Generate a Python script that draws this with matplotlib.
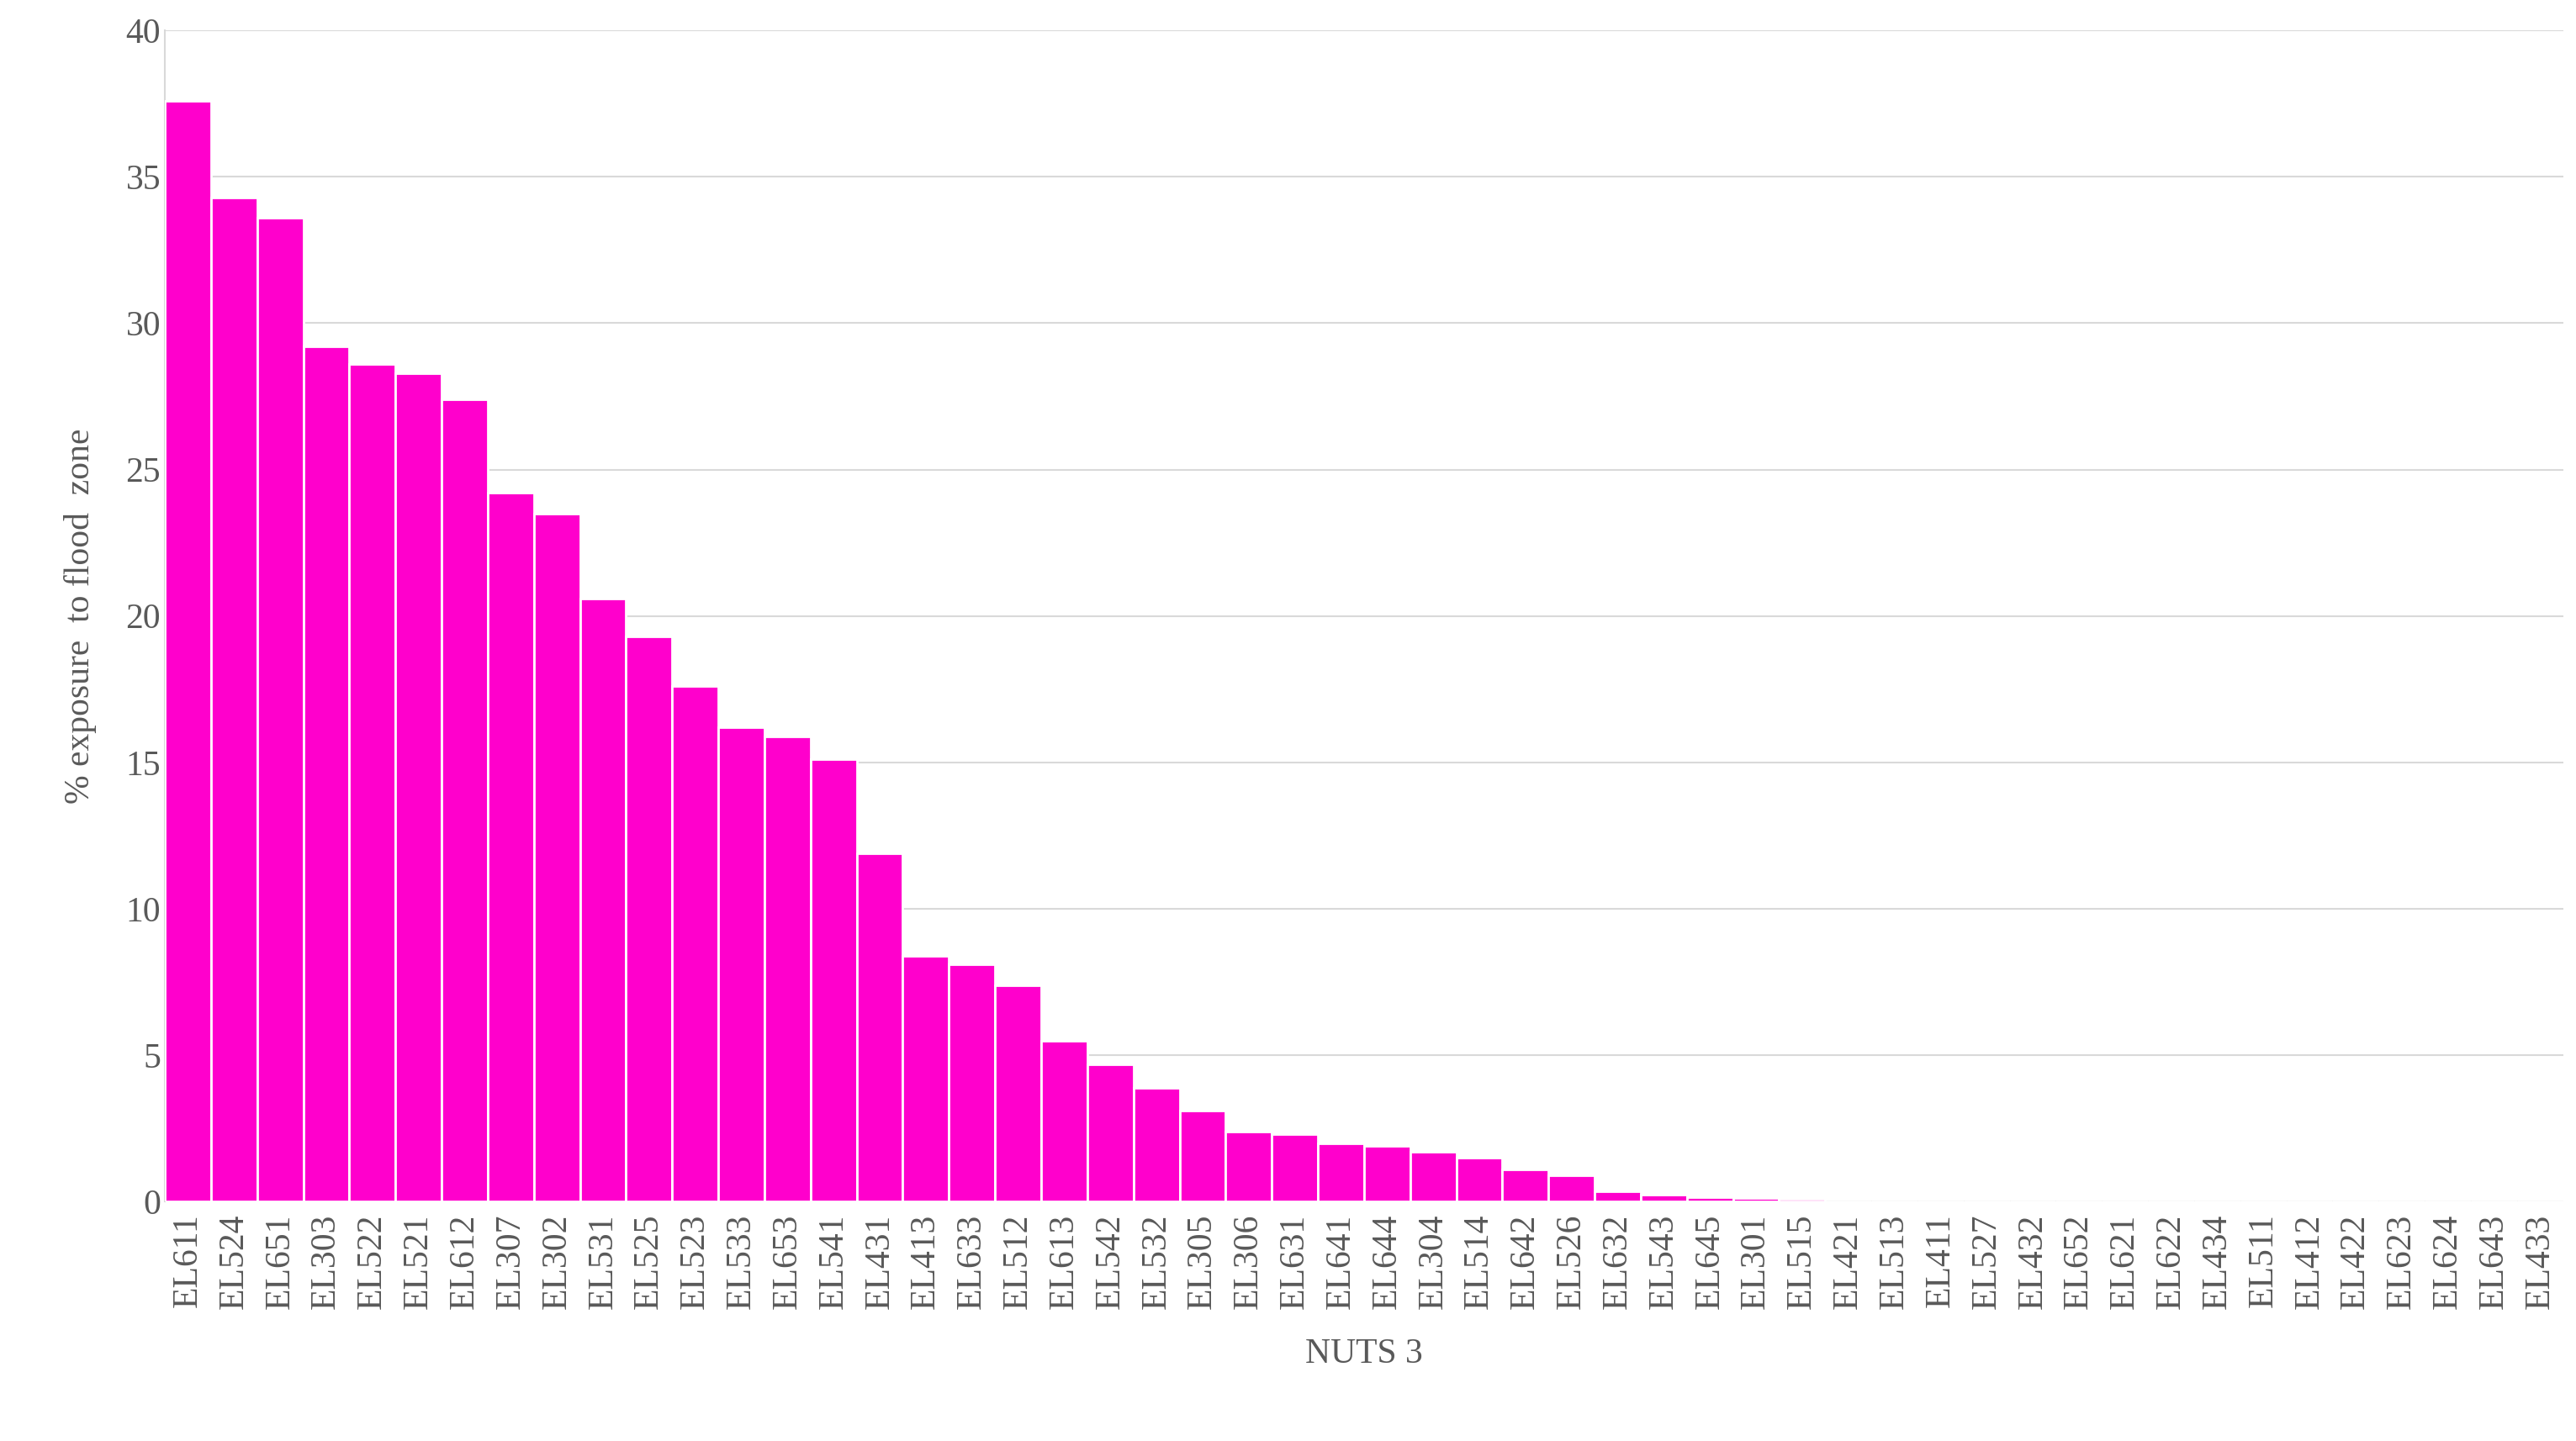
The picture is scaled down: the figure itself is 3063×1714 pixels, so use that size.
import matplotlib.pyplot as plt
import numpy as np

regions = ["EL611", "EL524", "EL651", "EL303", "EL522", "EL521", "EL612", "EL307",
           "EL302", "EL531", "EL525", "EL523", "EL533", "EL653", "EL541", "EL431",
           "EL413", "EL633", "EL512", "EL613", "EL542", "EL532", "EL305", "EL306",
           "EL631", "EL641", "EL644", "EL304", "EL514", "EL642", "EL526", "EL632",
           "EL543", "EL645", "EL301", "EL515", "EL421", "EL513", "EL411", "EL527",
           "EL432", "EL652", "EL621", "EL622", "EL434", "EL511", "EL412", "EL422",
           "EL623", "EL624", "EL643", "EL433"]
exposure = [37.6, 34.3, 33.6, 29.2, 28.6, 28.3, 27.4, 24.2, 23.5, 20.6, 19.3, 17.6,
            16.2, 15.9, 15.1, 11.9, 8.4, 8.1, 7.4, 5.5, 4.7, 3.9, 3.1, 2.4, 2.3, 2.0,
            1.9, 1.7, 1.5, 1.1, 0.9, 0.35, 0.25, 0.15, 0.12, 0.1,
            0, 0, 0, 0, 0, 0, 0, 0, 0, 0, 0, 0, 0, 0, 0, 0]

plt.rcParams["font.family"] = ["Liberation Serif", "DejaVu Serif"]
fig = plt.figure(figsize=(30.63, 17.14), dpi=100)
ax = fig.add_axes([0.064, 0.166, 0.931, 0.813])

x = np.arange(len(regions))
ax.bar(x, exposure, width=1.0, color="#ff00cc", edgecolor="white", linewidth=2, zorder=3)
ax.set_xlim(-0.5, len(regions) - 0.5)
ax.set_ylim(0, 40)
ax.set_yticks(range(0, 41, 5))
ax.set_xticks(x)
ax.set_xticklabels(regions, rotation=90)
ax.tick_params(axis="both", labelsize=30, colors="#595959", length=0)
ax.tick_params(axis="x", pad=10)
ax.grid(axis="y", color="#d9d9d9", linewidth=1.5, zorder=0)
for side in ["top", "right", "bottom"]:
    ax.spines[side].set_visible(False)
ax.spines["left"].set_color("#d9d9d9")
ax.spines["left"].set_linewidth(1.5)
ax.set_xlabel("NUTS 3", fontsize=30, color="#595959", labelpad=25)
ax.set_ylabel("% exposure  to flood  zone", fontsize=30, color="#595959", labelpad=25)

fig.savefig("out.png", dpi=100)
